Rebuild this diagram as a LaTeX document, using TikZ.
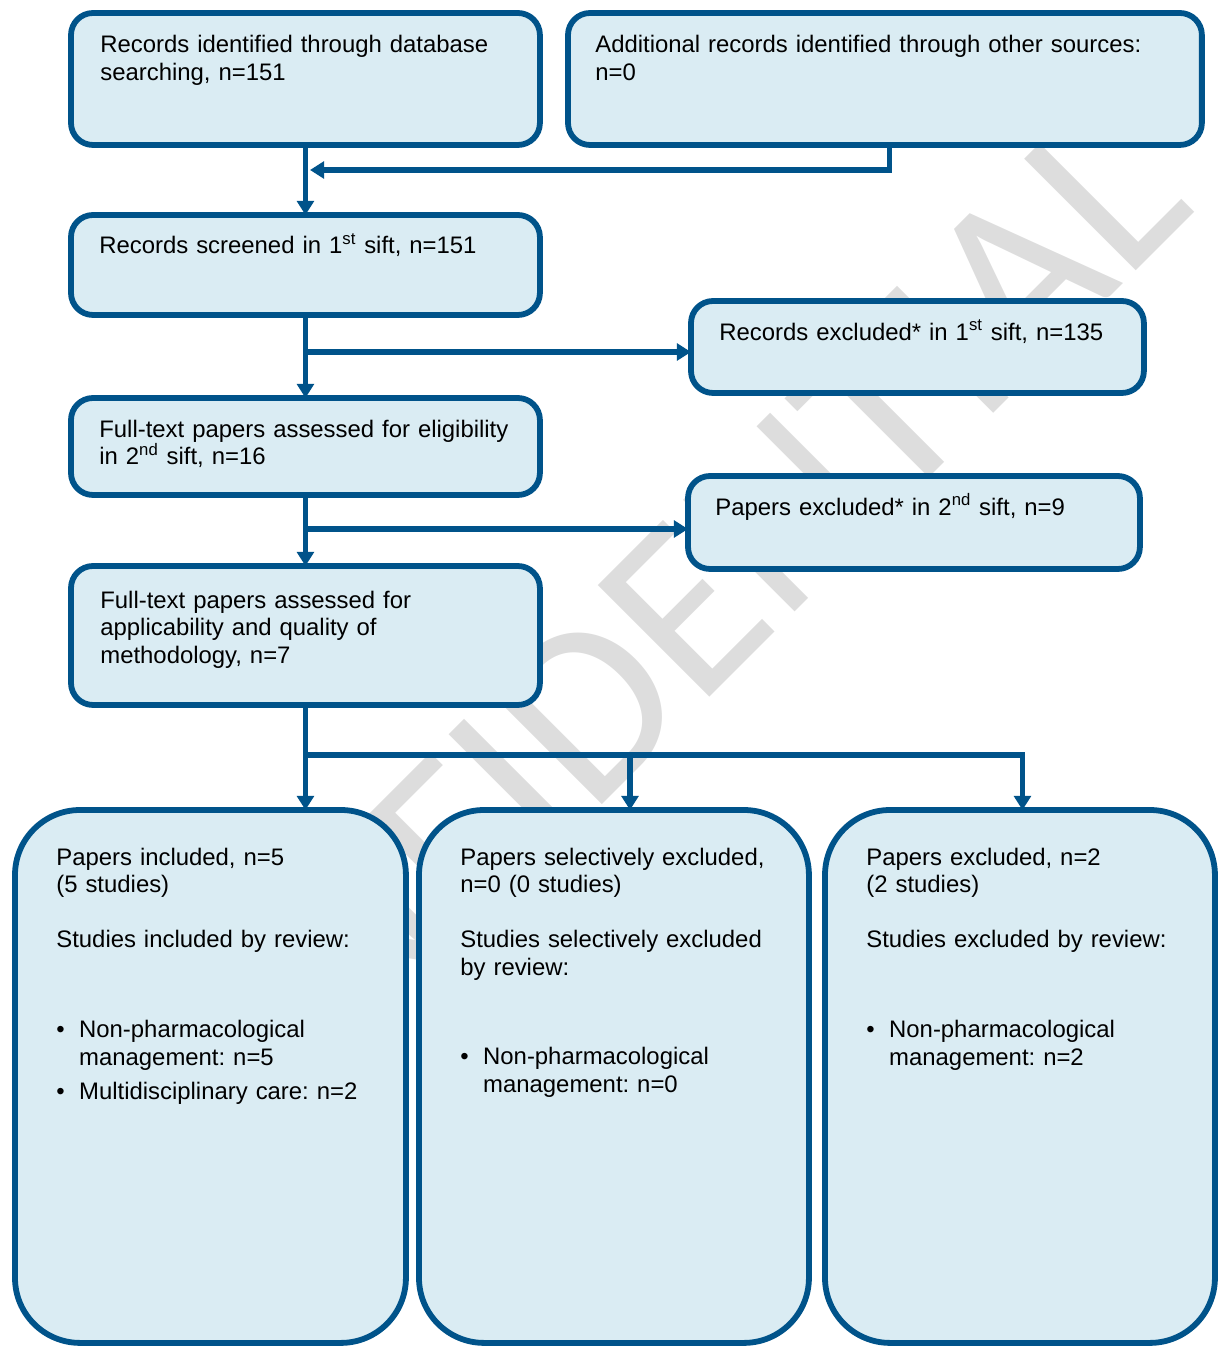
\documentclass[tikz,border=0pt]{standalone}
\usepackage{fontspec}
\setmainfont{Liberation Sans}
\newfontfamily\wmfont{Carlito}
\usetikzlibrary{arrows.meta}
\definecolor{FBlue}{HTML}{00538A}
\definecolor{FFill}{HTML}{DAECF3}
\definecolor{WGray}{HTML}{DDDDDD}
\newcommand{\bul}{\makebox[13pt][l]{\textbullet}}
\newcommand{\bulind}{\hspace*{13pt}}

\begin{document}
\begin{tikzpicture}[x=0.02cm, y=-0.02cm,
    flowbox/.style={draw=FBlue, fill=FFill, line width=3.3pt, rounded corners=0.44cm,
        anchor=north west, inner sep=0pt, outer sep=0pt},
    tallbox/.style={flowbox, rounded corners=1.3cm, minimum width=7.8cm, minimum height=10.66cm},
    flowtxt/.style={anchor=base west, inner sep=0pt, text width=12cm, align=left,
        font=\fontsize{13.6}{15.9}\selectfont\frenchspacing},
    link/.style={draw=FBlue, line width=2.9pt, -{Triangle[width=9.5pt, length=8pt]}},
    wmark/.style={text=WGray, rotate=45, anchor=base west, inner sep=0pt,
        font=\wmfont\fontsize{140}{140}\selectfont}]
    \useasboundingbox (0,0) rectangle (1219,1348);

    % Watermark behind everything
    \node[wmark] (conf) at (148,1259) {CONFIDENTIAL};

    % Identification
    \node[flowbox, minimum width=9.38cm, minimum height=2.64cm] (search) at (71,13) {};
    \node[flowbox, minimum width=12.68cm, minimum height=2.64cm] (other) at (568,13) {};
    \node[flowtxt] (searchT) at ([shift={(29,40)}]search.north west)
        {Records identified through database\\searching, n=151};
    \node[flowtxt] (otherT) at ([shift={(27,40)}]other.north west)
        {Additional records identified through other sources:\\n=0};

    % Screening
    \node[flowbox, minimum width=9.38cm, minimum height=2.0cm] (screen) at (71,215) {};
    \node[flowtxt] (screenT) at ([shift={(28,39)}]screen.north west)
        {Records screened in 1\textsuperscript{st} sift, n=151};
    \node[flowbox, minimum width=9.06cm, minimum height=1.84cm] (excl1) at (691,301) {};
    \node[flowtxt] (excl1T) at ([shift={(28,39)}]excl1.north west)
        {Records excluded* in 1\textsuperscript{st} sift, n=135};

    % Eligibility
    \node[flowbox, minimum width=9.38cm, minimum height=1.94cm] (elig) at (71,398) {};
    \node[flowtxt] (eligT) at ([shift={(28,39)}]elig.north west)
        {Full-text papers assessed for eligibility\\in 2\textsuperscript{nd} sift, n=16};
    \node[flowbox, minimum width=9.04cm, minimum height=1.86cm] (excl2) at (688,476) {};
    \node[flowtxt] (excl2T) at ([shift={(27,39)}]excl2.north west)
        {Papers excluded* in 2\textsuperscript{nd} sift, n=9};

    \node[flowbox, minimum width=9.38cm, minimum height=2.78cm] (quality) at (71,566) {};
    \node[flowtxt] (qualityT) at ([shift={(29,42)}]quality.north west)
        {Full-text papers assessed for\\applicability and quality of\\methodology, n=7};

    % Outcome boxes
    \node[tallbox, minimum width=7.82cm] (incl) at (15,810) {};
    \node[tallbox] (selexcl) at (419,810) {};
    \node[tallbox] (excl) at (825,810) {};
    \node[flowtxt] (inclT) at ([shift={(41,55)}]incl.north west)
        {Papers included, n=5\\(5 studies)\\[15.3pt]
         Studies included by review:\\[35.2pt]
         \bul Non-pharmacological\\\bulind management: n=5\\[3.4pt]
         \bul Multidisciplinary care: n=2};
    \node[flowtxt] (selexclT) at ([shift={(41,55)}]selexcl.north west)
        {Papers selectively excluded,\\n=0 (0 studies)\\[15.3pt]
         Studies selectively excluded\\by review:\\[34.6pt]
         \bul Non-pharmacological\\\bulind management: n=0};
    \node[flowtxt] (exclT) at ([shift={(41,55)}]excl.north west)
        {Papers excluded, n=2\\(2 studies)\\[15.3pt]
         Studies excluded by review:\\[35.2pt]
         \bul Non-pharmacological\\\bulind management: n=2};

    % Connectors
    \coordinate (merge) at (310,170);
    \coordinate (split1) at (306,352);
    \coordinate (split2) at (306,529);
    \coordinate (split3) at (306,755);
    \coordinate (dropI) at (630,755);
    \draw[link] (search.south) -- (screen.north);
    \draw[link] ([xshift=0.1cm]other.south) |- (merge);
    \draw[link] (screen.south) -- (elig.north);
    \draw[link] (split1) -- (split1 -| excl1.west);
    \draw[link] (elig.south) -- (quality.north);
    \draw[link] (split2) -- (split2 -| excl2.west);
    \draw[link] (quality.south) -- (quality.south |- incl.north);
    \draw[link] (split3) -| ([xshift=0.05cm]excl.north);
    \draw[link] (dropI) -- (dropI |- selexcl.north);
\end{tikzpicture}
\end{document}
